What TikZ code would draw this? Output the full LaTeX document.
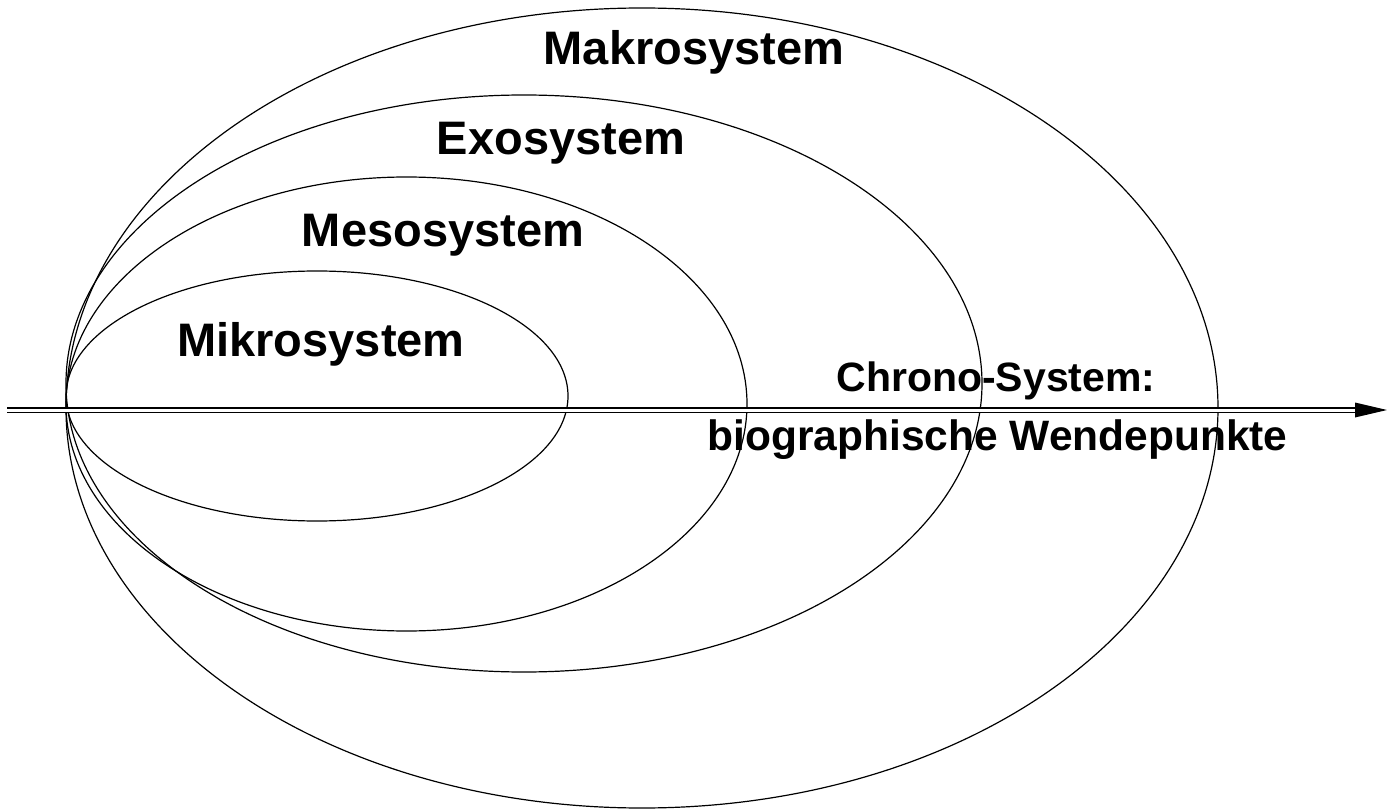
\documentclass[tikz,border=0pt]{standalone}
\usepackage{fontspec}
\setmainfont{Liberation Sans}
\begin{document}
\begin{tikzpicture}[x=1pt,y=-1pt,
  ring/.style={draw=black,line width=1.2pt},
  biglabel/.style={anchor=base,inner sep=0pt,font=\fontsize{47}{56}\selectfont\bfseries},
  smalllabel/.style={anchor=base,inner sep=0pt,font=\fontsize{41}{50}\selectfont\bfseries},
  widelabel/.style={anchor=base,inner sep=0pt,font=\fontsize{42.5}{50}\selectfont\bfseries},
  axis/.style={double distance=3pt,line width=1.8pt}]
\useasboundingbox (0,0) rectangle (1387,810);
\fill[white] (0,0) rectangle (1387,810);
% ellipses
\draw[ring] (317,396) ellipse [x radius=251pt, y radius=125pt];
\draw[ring] (406.5,404) ellipse [x radius=340.5pt, y radius=227pt];
\draw[ring] (524,383.5) ellipse [x radius=458pt, y radius=288.5pt];
\draw[ring] (642,408) ellipse [x radius=576pt, y radius=400pt];
% time axis
\coordinate (start) at (7,410);
\coordinate (end) at (1358,410);
\coordinate (tip) at (1387,410);
\draw[axis] (start) -- (end);
\fill[black] (1355,402.5) -- (tip) -- (1355,417.5) -- cycle;
% labels
\node[biglabel] (makro) at (694,65) {Makrosystem};
\node[biglabel] (exo) at (561,155) {Exosystem};
\node[biglabel] (meso) at (443,247) {Mesosystem};
\node[biglabel] (mikro) at (321,356) {Mikrosystem};
\node[smalllabel] (chrono) at (996,391) {Chrono-System:};
\node[widelabel] (wende) at (997.5,450) {biographische Wendepunkte};
\end{tikzpicture}
\end{document}
